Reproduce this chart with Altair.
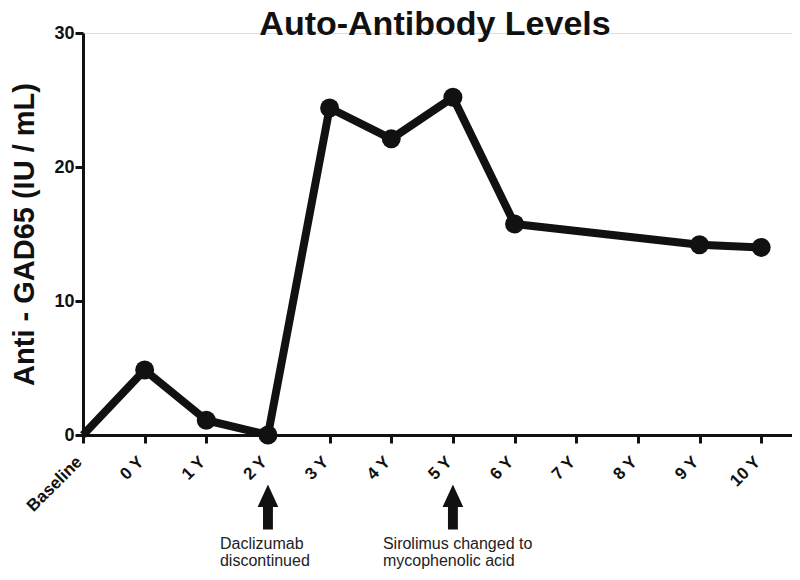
import altair as alt
import pandas as pd

categories = ["Baseline", "0 Y", "1 Y", "2 Y", "3 Y", "4 Y", "5 Y", "6 Y", "7 Y", "8 Y", "9 Y", "10 Y"]
obs_cats = ["Baseline", "0 Y", "1 Y", "2 Y", "3 Y", "4 Y", "5 Y", "6 Y", "9 Y", "10 Y"]
obs_vals = [0.0, 4.85, 1.1, 0.0, 24.4, 22.1, 25.2, 15.75, 14.2, 14.0]
marker_shown = [False, True, True, True, True, True, True, True, True, True]

event_cats = ["2 Y", "5 Y"]
event_texts = ["Daclizumab\ndiscontinued", "Sirolimus changed to\nmycophenolic acid"]

title_text = ["Auto-Antibody Levels"]

FONT = "Liberation Sans"
INK = "#111111"

df = pd.DataFrame({"cat": obs_cats, "val": obs_vals, "marker": marker_shown})
ev = pd.DataFrame({"cat": event_cats, "label": event_texts})
tt = pd.DataFrame({"t": title_text})

xscale = alt.Scale(domain=categories, type="point", padding=0.25, align=0)
xenc = alt.X("cat:O", scale=xscale, sort=categories,
             axis=alt.Axis(title=None, labelAngle=-45, labelAlign="right", labelBaseline="middle",
                           labelFont=FONT, labelFontSize=17, labelOffset=-4,
                           labelFontWeight="bold", labelColor=INK, labelPadding=16,
                           tickSize=8, tickWidth=3, tickColor=INK,
                           domainWidth=3, domainColor=INK, grid=False))
yenc = alt.Y("val:Q", scale=alt.Scale(domain=[0, 30], nice=False, zero=True),
             axis=alt.Axis(title="Anti - GAD65 (IU / mL)", values=[0, 10, 20, 30],
                           titleFont=FONT, titleFontSize=29, titleFontWeight="bold",
                           titleColor=INK, titlePadding=14,
                           labelFont=FONT, labelFontSize=18, labelFontWeight="bold",
                           labelColor=INK, labelPadding=1,
                           tickSize=8, tickWidth=3, tickColor=INK,
                           domainWidth=3, domainColor=INK, grid=False))

base = alt.Chart(df)
line = base.mark_line(color=INK, strokeWidth=8, strokeJoin="round", clip=False).encode(x=xenc, y=yenc)
pts = base.transform_filter("datum.marker").mark_point(
    filled=True, color=INK, size=360, opacity=1, clip=False).encode(x=xenc, y=yenc)

arrow_path = "M0,-1L0.46,0L0.22,0L0.22,1L-0.22,1L-0.22,0L-0.46,0Z"
arrows = alt.Chart(ev).mark_point(shape=arrow_path, filled=True, color=INK, size=2025,
                                  opacity=1, clip=False).encode(
    x=alt.X("cat:O", scale=xscale, sort=categories), y=alt.value(474))

txt_common = dict(font=FONT, fontSize=16, color="#222222", align="left",
                  baseline="alphabetic", lineBreak="\n", lineHeight=17, clip=False)
t1 = alt.Chart(ev).transform_filter("datum.cat == '2 Y'").mark_text(dx=-48, **txt_common).encode(
    x=alt.X("cat:O", scale=xscale, sort=categories), y=alt.value(516), text="label:N")
t2 = alt.Chart(ev).transform_filter("datum.cat == '5 Y'").mark_text(dx=-70, **txt_common).encode(
    x=alt.X("cat:O", scale=xscale, sort=categories), y=alt.value(516), text="label:N")

title = alt.Chart(tt).mark_text(font=FONT, fontSize=34, fontWeight="bold", color=INK,
                                align="center", baseline="alphabetic", clip=False).encode(
    x=alt.value(352), y=alt.value(2), text="t:N")

chart = alt.layer(line, pts, arrows, t1, t2, title).properties(
    width=709, height=402,
    autosize=alt.AutoSizeParams(type="none"),
    padding={"left": 75, "top": 25, "right": 0, "bottom": 137},
).configure_view(stroke=None).configure(background="white")

chart.save("out.html", embed_options={"renderer": "svg", "actions": False})
